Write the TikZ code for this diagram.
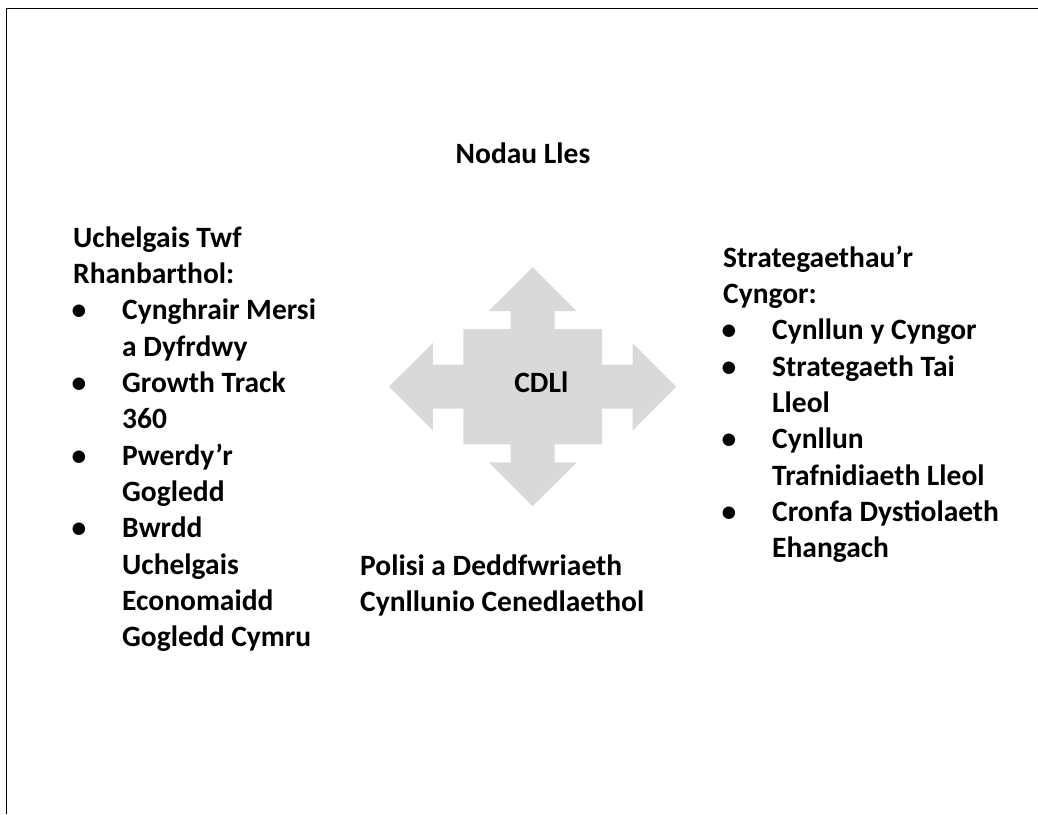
\documentclass[tikz,border=0pt]{standalone}
\usepackage{fontspec}
\setmainfont{Carlito}
\definecolor{arrowgrey}{RGB}{217,217,217}

\begin{document}
\begin{tikzpicture}[x=1pt, y=-1pt,
    lbl/.style={anchor=base west, inner sep=0pt, font=\fontsize{29.5}{36}\selectfont\bfseries},
    mid/.style={anchor=base, inner sep=0pt, font=\fontsize{29.5}{36}\selectfont\bfseries},
    bul/.style={anchor=base, inner sep=0pt, font=\fontsize{29.5}{36}\selectfont\bfseries}]

\useasboundingbox (0,0) rectangle (1038,814);

% Frame (runs off the page at right and bottom)
\draw[line width=1.5pt] (6.5,814) |- (1038,8.5);

% Heading at the top
\node[mid] (nodau) at (523,163) {Nodau Lles};

% Cross of arrows round CDLl
\coordinate (ctr) at (532.7,386.7);
\fill[arrowgrey, shift={(ctr)}]
    (0,-119.5) -- (44,-75.7) -- (22,-75.7) -- (22,-57.7) -- (69.3,-57.7) -- (69.3,-22)
    -- (99.8,-22) -- (99.8,-43.8) -- (143.7,0) -- (99.8,43.8) -- (99.8,22) -- (69.3,22)
    -- (69.3,57.7) -- (22,57.7) -- (22,75.7) -- (44,75.7) -- (0,119.5) -- (-44,75.7)
    -- (-22,75.7) -- (-22,57.7) -- (-69.3,57.7) -- (-69.3,22) -- (-99.8,22) -- (-99.8,43.8)
    -- (-143.7,0) -- (-99.8,-43.8) -- (-99.8,-22) -- (-69.3,-22) -- (-69.3,-57.7)
    -- (-22,-57.7) -- (-22,-75.7) -- (-44,-75.7) -- cycle;
\node[mid] (cdll) at (541.3,392.7) {CDLl};

% Left column: Uchelgais Twf Rhanbarthol
\foreach \txt [count=\i from 0] in {Uchelgais Twf, Rhanbarthol:}
{
    \node[lbl] (twf\i) at (73,247+36.36*\i) {\txt};
}
\foreach \txt [count=\i from 2] in {Cynghrair Mersi, a Dyfrdwy, Growth Track, 360,
    Pwerdy’r, Gogledd, Bwrdd, Uchelgais, Economaidd, Gogledd Cymru}
{
    \node[lbl] (twf\i) at (122,247+36.36*\i) {\txt};
}
\foreach \i in {2,4,6,8}
{
    \node[bul] (twfb\i) at (79,247+36.36*\i) {\textbullet};
}

% Right column: Strategaethau'r Cyngor
\foreach \txt [count=\i from 0] in {Strategaethau’r, Cyngor:}
{
    \node[lbl] (str\i) at (723,267+36.36*\i) {\txt};
}
\foreach \txt [count=\i from 2] in {Cynllun y Cyngor, Strategaeth Tai, Lleol, Cynllun,
    Trafnidiaeth Lleol, Cronfa Dystiolaeth, Ehangach}
{
    \node[lbl] (str\i) at (772,267+36.36*\i) {\txt};
}
\foreach \i in {2,3,5,7}
{
    \node[bul] (strb\i) at (729,267+36.36*\i) {\textbullet};
}

% Bottom: national policy
\node[lbl] (polisi) at (360,575) {Polisi a Deddfwriaeth};
\node[lbl] (cenedl) at (360,611.4) {Cynllunio Cenedlaethol};

\end{tikzpicture}
\end{document}
